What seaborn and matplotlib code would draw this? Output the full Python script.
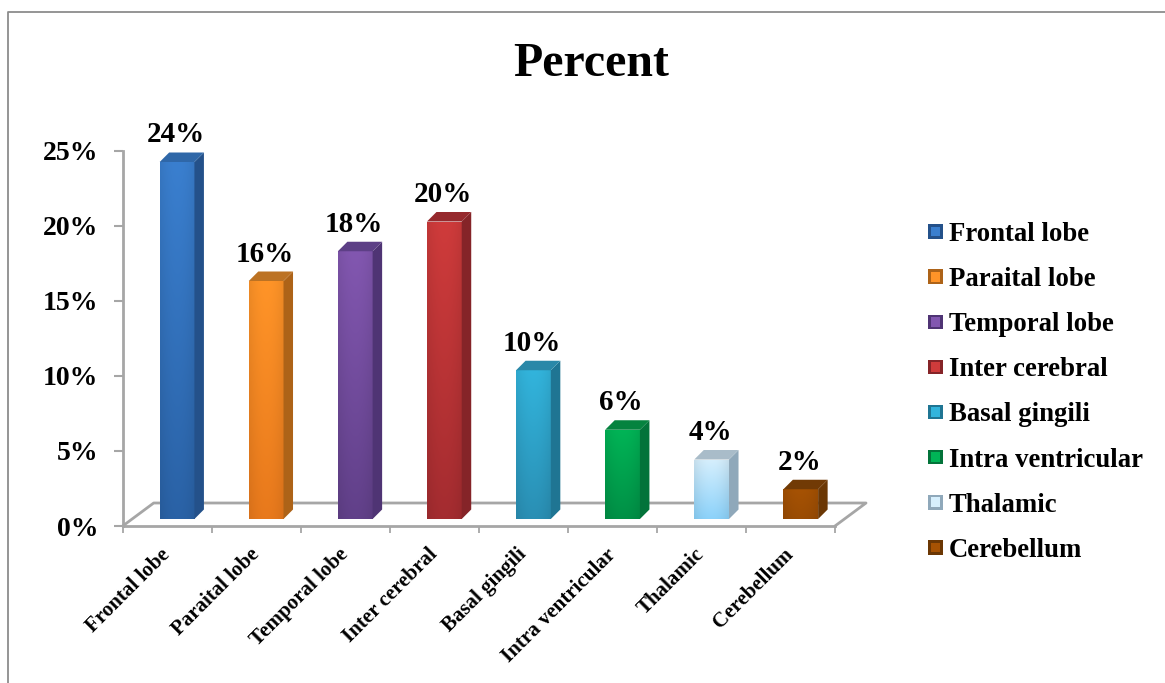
import numpy as np
import pandas as pd
import matplotlib
matplotlib.use("Agg")
import matplotlib.pyplot as plt
import seaborn as sns
from matplotlib.lines import Line2D
from matplotlib.patches import Patch, Polygon, Rectangle
from matplotlib.legend_handler import HandlerBase
from matplotlib.transforms import Affine2D, IdentityTransform

regions = ["Frontal lobe", "Paraital lobe", "Temporal lobe", "Inter cerebral",
           "Basal gingili", "Intra ventricular", "Thalamic", "Cerebellum"]
percent = [24, 16, 18, 20, 10, 6, 4, 2]
y_ticks = [0, 5, 10, 15, 20, 25]

top_colors = ["#3a7fcf", "#ff9428", "#8257b0", "#cf3b3b", "#32b4dc", "#00b456", "#d6effd", "#a65203"]
bottom_colors = ["#2a62a6", "#e8791c", "#614089", "#a42c30", "#2a8fb4", "#009046", "#8cd2fa", "#9a4c04"]
side_colors = ["#24518a", "#ad6318", "#4f3474", "#852428", "#1f7593", "#03733a", "#8fa8ba", "#6b3704"]
cap_colors = ["#2f67a8", "#bc7223", "#5d3f86", "#96292d", "#2a88a8", "#05833f", "#a9bcc9", "#713a05"]
GREY = "#a6a6a6"

W, H = 1165, 683
DEPTH_X, DEPTH_Y = 9.5, 9.5

sns.set_theme(style="white")
plt.rcParams["font.family"] = ["Liberation Serif", "DejaVu Serif"]
plt.rcParams["font.weight"] = "bold"


def axes_at(fig, left, right, top, bottom, **kw):
    """Create axes from pixel edges measured from the top-left corner."""
    return fig.add_axes([left / W, 1 - bottom / H, (right - left) / W, (bottom - top) / H], **kw)


fig = plt.figure(figsize=(W / 100, H / 100), dpi=100, facecolor="white")

# Outer chart border: only the top and left edges are visible
fig.add_artist(Line2D([7.5 / W, 7.5 / W, 1], [0, 1 - 11.5 / H, 1 - 11.5 / H], color="#8c8c8c", lw=1.3))

# Axis frame with the percent scale and category labels
ax = axes_at(fig, 122.7, 835, 150.7, 526)
ax.set_xlim(-0.5, 7.5)
ax.set_ylim(0, 25)
ax.patch.set_visible(False)
for name in ("top", "right"):
    ax.spines[name].set_visible(False)
for name in ("left", "bottom"):
    ax.spines[name].set_color(GREY)
    ax.spines[name].set_linewidth(2.0)
ax.set_yticks(y_ticks, [f"{v}%" for v in y_ticks], fontsize=20, fontweight="bold", color="black")
ax.tick_params(axis="y", length=6.5, width=1.5, color=GREY, left=True, pad=11)
ax.set_xticks(range(len(regions)), regions, rotation=45, ha="right", rotation_mode="anchor",
              fontsize=15.1, fontweight="bold", color="black")
ax.tick_params(axis="x", which="major", length=0, pad=13.5, bottom=False)
ax.set_xticks(np.arange(-0.5, 8), minor=True)
ax.tick_params(axis="x", which="minor", length=5, width=1.3, color=GREY, bottom=True)
for label in ax.get_xticklabels():
    label.set_transform(label.get_transform() + Affine2D().translate(-7, 0))

# Floor of the 3D box
to_fig = IdentityTransform()
x0, y0 = ax.transData.transform((-0.5, 0))
x1, _ = ax.transData.transform((7.5, 0))
floor_dx, floor_dy = 31, 23
fig.add_artist(Line2D([x0, x0 + floor_dx, x1 + floor_dx, x1], [y0, y0 + floor_dy, y0 + floor_dy, y0],
                      color=GREY, lw=2.0, transform=to_fig, zorder=1))

# Bars sit slightly in front of the frame
ax_bars = axes_at(fig, 132.5, 845.3, 519 - 25 * 14.875, 519, zorder=3)
ax_bars.patch.set_visible(False)
frame = pd.DataFrame({"region": regions, "percent": percent})
sns.barplot(data=frame, x="region", y="percent", hue="region", palette=bottom_colors,
            width=0.39, legend=False, ax=ax_bars, saturation=1)
ax_bars.set_xlim(-0.5, 7.5)
ax_bars.set_ylim(0, 25)
ax_bars.axis("off")


def gradient(top, bottom, rows=64, cols=24):
    top_rgb = np.array(matplotlib.colors.to_rgb(top))
    bot_rgb = np.array(matplotlib.colors.to_rgb(bottom))
    t = np.linspace(0, 1, rows)[:, None, None]
    img = np.repeat(top_rgb[None, None, :] * (1 - t) + bot_rgb[None, None, :] * t, cols, axis=1)
    # Soft vertical banding across the face width
    band = 1 - 0.07 * np.abs(np.linspace(-1, 1, cols)) ** 2
    return np.clip(img * band[None, :, None], 0, 1)


for bar, value, top, bottom, side, cap in zip(ax_bars.patches, percent, top_colors,
                                              bottom_colors, side_colors, cap_colors):
    left, right = bar.get_x(), bar.get_x() + bar.get_width()
    bar.set_facecolor("none")
    bar.set_edgecolor("none")
    image = ax_bars.imshow(gradient(top, bottom), extent=(left, right, 0, value),
                           aspect="auto", zorder=4, interpolation="bilinear")
    image.set_clip_path(bar)

    (lx, by), (rx, ty) = ax_bars.transData.transform([(left, 0), (right, value)])
    side_pts = [(rx, by), (rx + DEPTH_X, by + DEPTH_Y), (rx + DEPTH_X, ty + DEPTH_Y), (rx, ty)]
    cap_pts = [(lx, ty), (lx + DEPTH_X, ty + DEPTH_Y), (rx + DEPTH_X, ty + DEPTH_Y), (rx, ty)]
    ax_bars.add_patch(Polygon(side_pts, closed=True, fc=side, ec="none", transform=to_fig, zorder=4))
    ax_bars.add_patch(Polygon(cap_pts, closed=True, fc=cap, ec="none", transform=to_fig, zorder=4))

    ax_bars.annotate(f"{value}%", xy=((left + right) / 2, value), xytext=(-1.0, 19.5 / 100 * 72),
                     textcoords="offset points", ha="center", va="baseline",
                     fontsize=21, fontweight="bold", color="black", zorder=6)

ax_bars.set_xlim(-0.5, 7.5)
ax_bars.set_ylim(0, 25)


class BevelSquare(HandlerBase):
    """Legend key drawn as a small bevelled square."""

    def create_artists(self, legend, orig, xd, yd, width, height, fontsize, trans):
        size = 10.5
        outer = Rectangle((-xd, -yd + (height - size) / 2), size, size,
                          fc=orig.get_edgecolor(), ec="none", transform=trans)
        m = 1.8
        inner = Rectangle((-xd + m, -yd + (height - size) / 2 + m), size - 2 * m, size - 2 * m,
                          fc=orig.get_facecolor(), ec="none", transform=trans)
        return [outer, inner]


handles = [Patch(fc=t, ec=s, label=r) for t, s, r in zip(top_colors, side_colors, regions)]
fig.legend(handles=handles, loc="upper left", bbox_to_anchor=(928 / W, 1 - 222 / H),
           bbox_transform=fig.transFigure, frameon=False, handler_map={Patch: BevelSquare()},
           prop={"family": "Liberation Serif", "weight": "bold", "size": 19.3},
           handlelength=0.72, handletextpad=0.05, labelspacing=0.75, borderpad=0, borderaxespad=0,
           labelcolor="black")

fig.text(591 / W, 1 - 76 / H, "Percent", ha="center", va="baseline",
         fontsize=34.5, fontweight="bold", color="black")

fig.savefig("out.png", dpi=100, facecolor="white")
